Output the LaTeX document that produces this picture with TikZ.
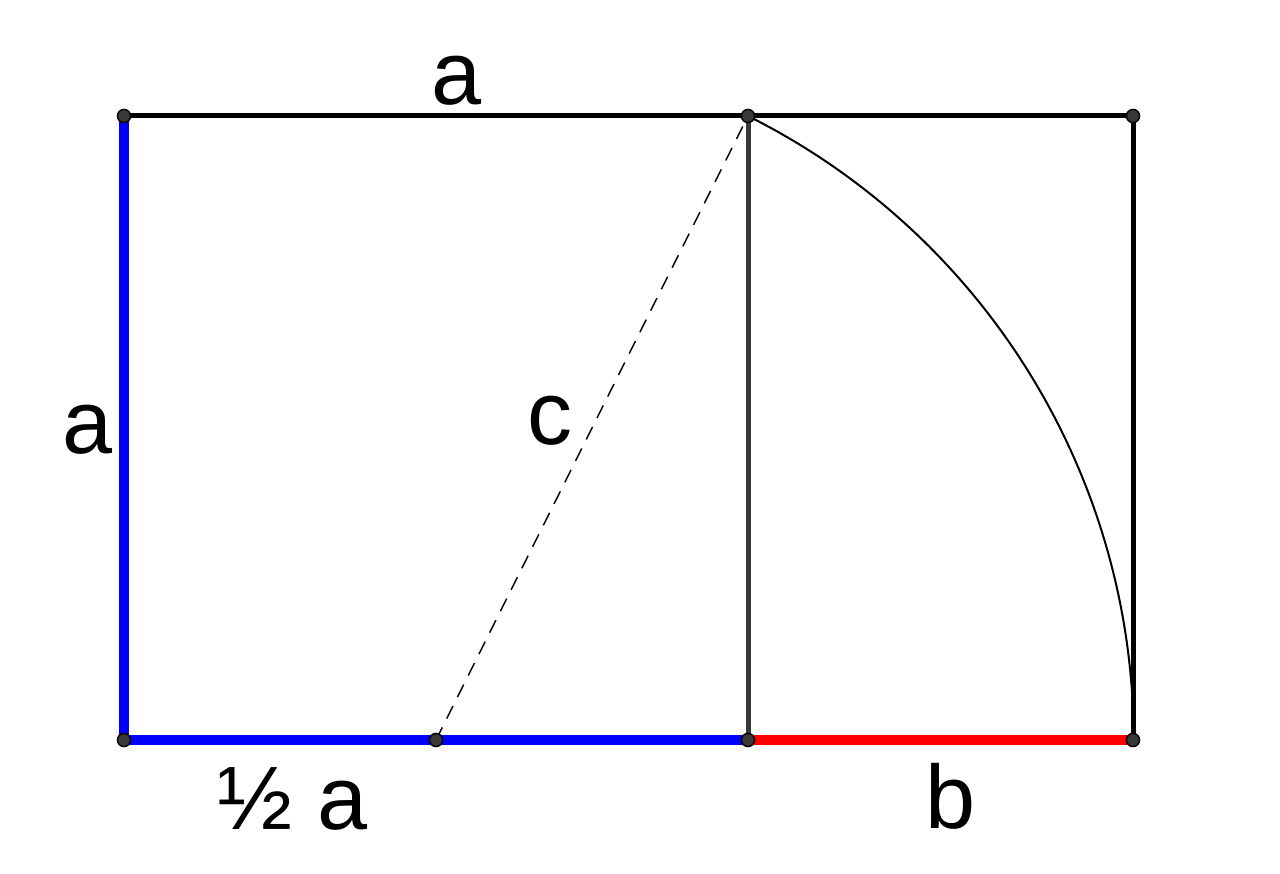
\documentclass[tikz,border=0pt]{standalone}
\usepackage{fontspec}
\setmainfont{Liberation Sans}
\usepackage{tikz}
\definecolor{SideA}{RGB}{0,0,255}
\definecolor{SideB}{RGB}{255,0,0}
\definecolor{Divider}{RGB}{56,56,56}
\newcommand{\GPoint}[1]{% coordinate name
\filldraw[fill=Divider,draw=black,line width=0.7pt] (#1) circle[radius=3.3pt];
}
\newcommand{\GLabel}[2]{% position text
\node[font=\fontsize{45}{50}\selectfont] at (#1) {#2};
}

\begin{document}
\begin{tikzpicture}[x=0.5pt,y=0.5pt]
\useasboundingbox (0,0) rectangle (1280,873);
% corners and construction points
\coordinate (BL) at (124,133);
\coordinate (TL) at (124,757);
\coordinate (MB) at (436,133);
\coordinate (SB) at (748,133);
\coordinate (ST) at (748,757);
\coordinate (RB) at (1133,133);
\coordinate (RT) at (1133,757);
% outer frame
\draw[line width=2.5pt,black] (TL) -- (RT) -- (RB);
\draw[line width=2.5pt,Divider] (ST) -- (SB);
% radius c and its arc
\draw[line width=0.75pt,dash pattern=on 7pt off 5pt] (MB) -- (ST);
\draw[line width=1pt] (ST) arc[start angle=63.435,end angle=0,radius=348.8pt];
% coloured sides
\draw[line width=5pt,SideA] (TL) -- (BL) -- (SB);
\draw[line width=5pt,SideB] (SB) -- (RB);
\foreach \p in {BL,TL,MB,SB,ST,RB,RT} {\GPoint{\p}}
% labels
\GLabel{457,792}{a}
\GLabel{88,443}{a}
\GLabel{550,452}{c}
\GLabel{293,74}{½ a}
\GLabel{951,77}{b}
\end{tikzpicture}
\end{document}
